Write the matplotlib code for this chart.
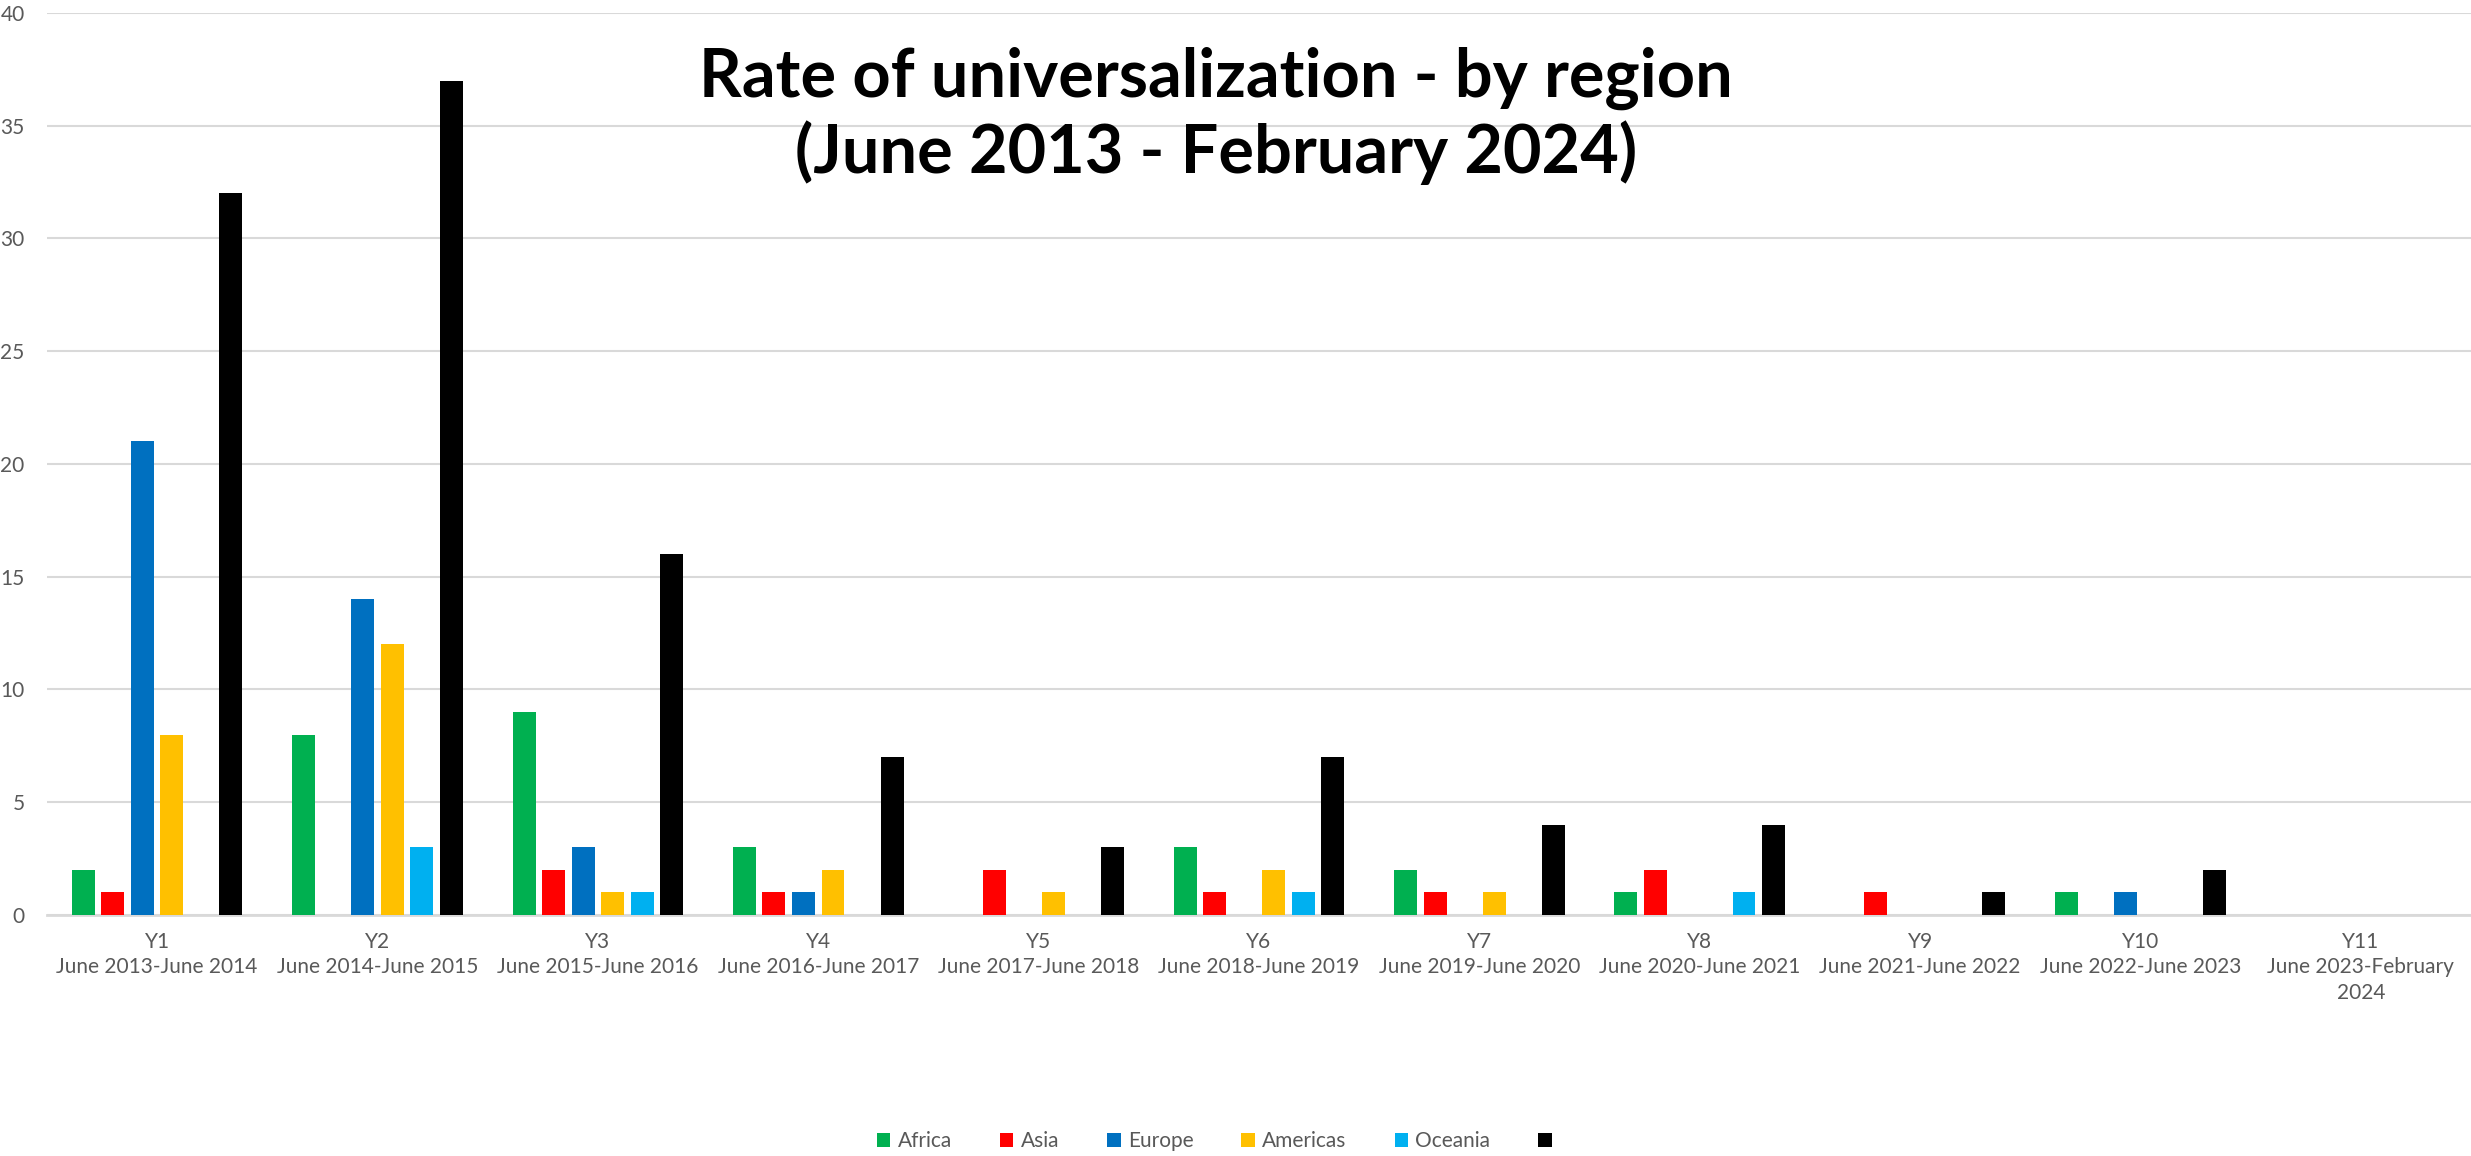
import matplotlib
matplotlib.use("Agg")
import matplotlib.pyplot as plt
import numpy as np

plt.rcParams['font.family'] = ['Lato', 'DejaVu Sans']

periods = ["Y1\nJune 2013-June 2014", "Y2\nJune 2014-June 2015", "Y3\nJune 2015-June 2016",
           "Y4\nJune 2016-June 2017", "Y5\nJune 2017-June 2018", "Y6\nJune 2018-June 2019",
           "Y7\nJune 2019-June 2020", "Y8\nJune 2020-June 2021", "Y9\nJune 2021-June 2022",
           "Y10\nJune 2022-June 2023", "Y11\nJune 2023-February\n2024"]
series_names = ["Africa", "Asia", "Europe", "Americas", "Oceania", ""]
africa   = [2, 8, 9, 3, 0, 3, 2, 1, 0, 1, 0]
asia     = [1, 0, 2, 1, 2, 1, 1, 2, 1, 0, 0]
europe   = [21, 14, 3, 1, 0, 0, 0, 0, 0, 1, 0]
americas = [8, 12, 1, 2, 1, 2, 1, 0, 0, 0, 0]
oceania  = [0, 3, 1, 0, 0, 1, 0, 1, 0, 0, 0]
total    = [32, 37, 16, 7, 3, 7, 4, 4, 1, 2, 0]
colors = ["#00B050", "#FF0000", "#0070C0", "#FFC000", "#00B0F0", "#000000"]

data = [africa, asia, europe, americas, oceania, total]

fig = plt.figure(figsize=(24.71, 11.56), dpi=100)
ax = fig.add_axes([0.019, 0.2085, 0.981, 0.7803])

x = np.arange(len(periods))
pitch = 0.134
width = 0.104
for i, (vals, name, c) in enumerate(zip(data, series_names, colors)):
    ax.bar(x + (i - 2.5) * pitch, vals, width=width, color=c, label=name if name else " ", zorder=3)

ax.set_xlim(-0.5, len(periods) - 0.5)
ax.set_ylim(0, 40)
ax.set_yticks(range(0, 41, 5))
ax.yaxis.grid(True, color="#D9D9D9", linewidth=1.5, zorder=0)
ax.set_axisbelow(True)
for s in ["top", "right", "left"]:
    ax.spines[s].set_visible(False)
ax.spines["bottom"].set_color("#D9D9D9")
ax.spines["bottom"].set_linewidth(2)
ax.set_xticks(x)
ax.set_xticklabels(periods, linespacing=1.35)
ax.tick_params(axis="x", length=0, pad=12, labelsize=15, labelcolor="#595959")
ax.tick_params(axis="y", length=0, pad=16, labelsize=15, labelcolor="#595959")

fig.text(0.492, 0.9, "Rate of universalization - by region\n(June 2013 - February 2024)",
         ha="center", va="center", fontsize=48, fontweight="bold", linespacing=1.2)

leg = fig.legend(loc="center", bbox_to_anchor=(0.494, 0.013), ncol=6, frameon=False,
                 fontsize=15, handlelength=0.65, handleheight=0.65, handletextpad=0.35,
                 columnspacing=2.3, labelcolor="#595959")

fig.savefig("out.png", dpi=100)
